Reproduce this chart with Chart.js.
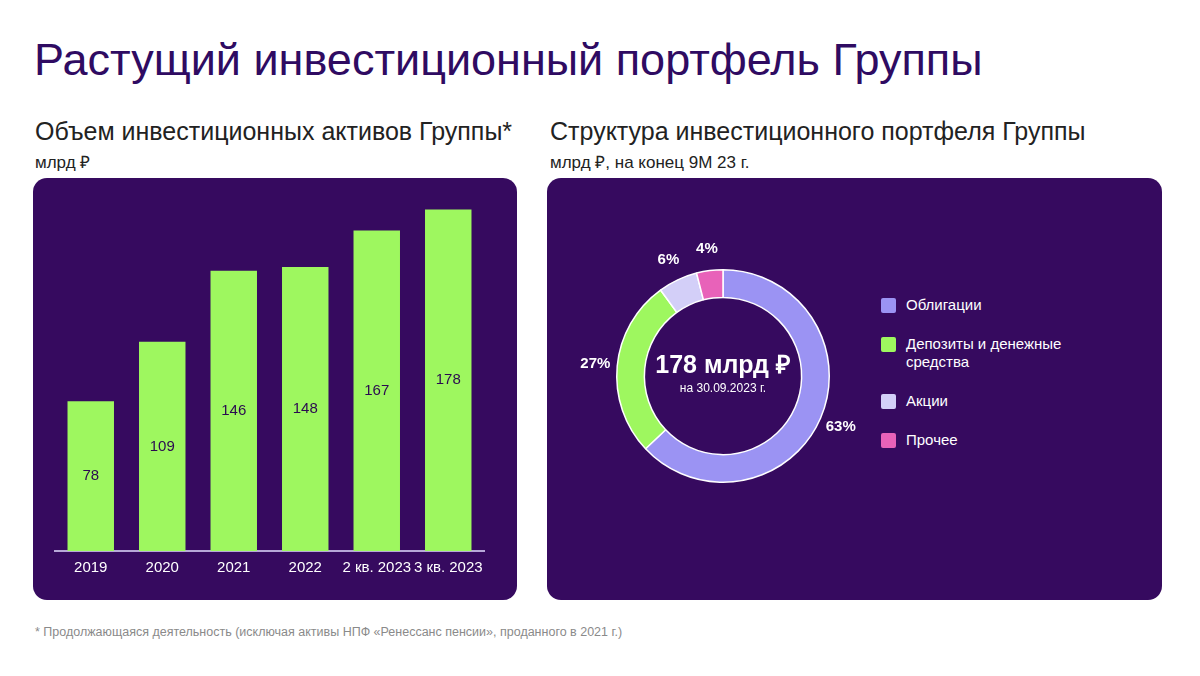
<!DOCTYPE html>
<html lang="ru">
<head>
<meta charset="utf-8">
<title>Растущий инвестиционный портфель Группы</title>
<script src="https://cdn.jsdelivr.net/npm/chart.js@4/dist/chart.umd.min.js"></script>
<style>
  body { margin: 0; width: 1200px; height: 676px; background: #fff; font-family: "Liberation Sans", Arial, sans-serif; position: relative; overflow: hidden; }
  .title { position: absolute; left: 34px; top: 34px; font-size: 45px; color: #2f0b62; white-space: nowrap; }
  .sub { position: absolute; top: 117px; font-size: 25px; color: #222; white-space: nowrap; }
  .unit { position: absolute; top: 150px; font-size: 17px; color: #222; white-space: nowrap; }
  .panel { position: absolute; top: 178px; height: 422px; background: #360a5f; border-radius: 14px; }
  #leftPanel { left: 33px; width: 484px; }
  #rightPanel { left: 547px; width: 615px; }
  #barCanvas { position: absolute; left: 0; top: 0; }
  #pieCanvas { position: absolute; left: 26px; top: 48px; }
  #legend { position: absolute; left: 334px; top: 118px; width: 200px; }
  .item { display: flex; align-items: flex-start; color: #fff; font-size: 15px; line-height: 18px; margin-bottom: 21px; }
  .box { width: 15px; height: 15px; border-radius: 2px; margin-right: 10px; margin-top: 2px; flex: none; }
  .note { position: absolute; left: 35px; top: 625px; font-size: 12.5px; color: #8a8a8a; white-space: nowrap; }
</style>
</head>
<body>
<div class="title">Растущий инвестиционный портфель Группы</div>
<div class="sub" style="left:35px">Объем инвестиционных активов Группы*</div>
<div class="unit" style="left:35px">млрд ₽</div>
<div class="sub" style="left:550px">Структура инвестиционного портфеля Группы</div>
<div class="unit" style="left:550px">млрд ₽, на конец 9М 23 г.</div>

<div class="panel" id="leftPanel"><canvas id="barCanvas" width="484" height="422"></canvas></div>
<div class="panel" id="rightPanel">
  <canvas id="pieCanvas" width="300" height="300"></canvas>
  <div id="legend"></div>
</div>

<div class="note">* Продолжающаяся деятельность (исключая активы НПФ «Ренессанс пенсии», проданного в 2021 г.)</div>

<script>
// Bar chart data
const periods = ['2019', '2020', '2021', '2022', '2 кв. 2023', '3 кв. 2023'];
const assets = [78, 109, 146, 148, 167, 178];

// Portfolio structure data
const assetTypes = ['Облигации', 'Депозиты и денежные средства', 'Акции', 'Прочее'];
const shares = [63, 27, 6, 4];
const typeColors = ['#9b93f3', '#9ef75f', '#d3cff8', '#e862b9'];
const totalText = '178 млрд ₽';
const dateText = 'на 30.09.2023 г.';

const FONT = '"Liberation Sans", Arial, sans-serif';

// Value labels in the middle of each bar
const barLabels = {
  id: 'barLabels',
  afterDatasetsDraw(chart) {
    const ctx = chart.ctx;
    const meta = chart.getDatasetMeta(0);
    ctx.save();
    ctx.font = '15px ' + FONT;
    ctx.fillStyle = '#2b0a50';
    ctx.textAlign = 'center';
    ctx.textBaseline = 'middle';
    meta.data.forEach((bar, i) => {
      ctx.fillText(assets[i], bar.x, (bar.y + bar.base) / 2);
    });
    ctx.restore();
  }
};

new Chart(document.getElementById('barCanvas'), {
  type: 'bar',
  data: {
    labels: periods,
    datasets: [{
      data: assets,
      backgroundColor: '#9ef75f',
      barPercentage: 0.65,
      categoryPercentage: 1
    }]
  },
  options: {
    responsive: false,
    animation: false,
    layout: { padding: { left: 22, right: 33, top: 18, bottom: 15 } },
    plugins: { legend: { display: false }, tooltip: { enabled: false } },
    scales: {
      x: {
        grid: { display: false, drawTicks: false },
        border: { color: '#b7a8d8', width: 2 },
        ticks: { color: '#fff', font: { family: FONT, size: 15 }, padding: 8, maxRotation: 0, autoSkip: false }
      },
      y: { display: false, min: 0, max: 185 }
    }
  },
  plugins: [barLabels]
});

// Percent labels around the ring + total in the centre
const pieLabels = {
  id: 'pieLabels',
  afterDatasetsDraw(chart) {
    const ctx = chart.ctx;
    const meta = chart.getDatasetMeta(0);
    ctx.save();
    ctx.fillStyle = '#fff';
    ctx.textAlign = 'center';
    ctx.textBaseline = 'middle';
    ctx.font = 'bold 15px ' + FONT;
    meta.data.forEach((arc, i) => {
      const mid = (arc.startAngle + arc.endAngle) / 2;
      const r = arc.outerRadius + 22;
      ctx.fillText(shares[i] + '%', arc.x + Math.cos(mid) * r, arc.y + Math.sin(mid) * r);
    });
    const c = meta.data[0];
    ctx.font = 'bold 25px ' + FONT;
    ctx.fillText(totalText, c.x, c.y - 10);
    ctx.font = '12px ' + FONT;
    ctx.fillText(dateText, c.x, c.y + 13);
    ctx.restore();
  }
};

new Chart(document.getElementById('pieCanvas'), {
  type: 'doughnut',
  data: {
    labels: assetTypes,
    datasets: [{
      data: shares,
      backgroundColor: typeColors,
      borderColor: '#ffffff',
      borderWidth: 1.5
    }]
  },
  options: {
    responsive: false,
    animation: false,
    cutout: '74%',
    layout: { padding: 43 },
    plugins: { legend: { display: false }, tooltip: { enabled: false } }
  },
  plugins: [pieLabels]
});

// HTML legend
const legend = document.getElementById('legend');
assetTypes.forEach((name, i) => {
  const item = document.createElement('div');
  item.className = 'item';
  item.innerHTML = '<span class="box" style="background:' + typeColors[i] + '"></span><span>' + name + '</span>';
  legend.appendChild(item);
});
</script>
</body>
</html>
